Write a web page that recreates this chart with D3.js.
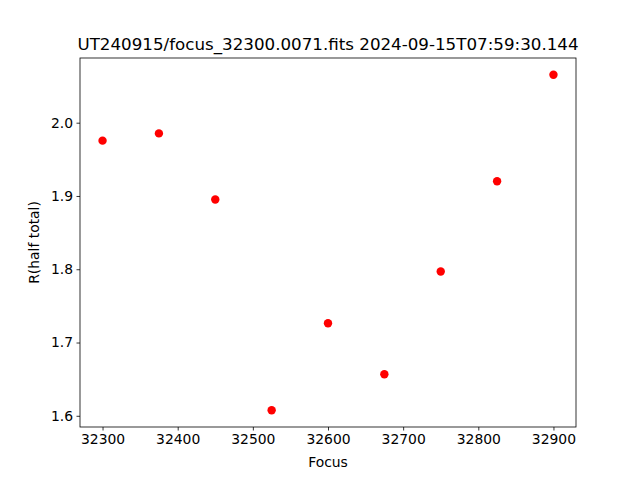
<!DOCTYPE html>
<html><head><meta charset="utf-8">
<script src="https://cdn.jsdelivr.net/npm/d3@7"></script>
<style>body{margin:0;background:#fff}svg{display:block}text{font-family:"DejaVu Sans",sans-serif;fill:#000}</style>
</head><body><div id="chart"></div>
<script>
const title = "UT240915/focus_32300.0071.fits 2024-09-15T07:59:30.144";
const xLabel = "Focus";
const yLabel = "R(half total)";
const focus = [32300, 32375, 32450, 32525, 32600, 32675, 32750, 32825, 32900];
const radius = [1.9755, 1.9854, 1.8951, 1.6076, 1.7262, 1.6567, 1.797, 1.920, 2.0654];
const xTicks = [32300, 32400, 32500, 32600, 32700, 32800, 32900];
const yTicks = [1.6, 1.7, 1.8, 1.9, 2.0];

const W = 640, H = 480;
const m = {left: 80, right: 640 - 576, top: 58, bottom: 480 - 427};
const svg = d3.select("#chart").append("svg").attr("width", W).attr("height", H);

const xmin = d3.min(focus), xmax = d3.max(focus), xpad = (xmax - xmin) * 0.05;
const ymin = d3.min(radius), ymax = d3.max(radius), ypad = (ymax - ymin) * 0.05;
const x = d3.scaleLinear().domain([xmin - xpad, xmax + xpad]).range([m.left, W - m.right]);
const y = d3.scaleLinear().domain([ymin - ypad, ymax + ypad]).range([H - m.bottom, m.top]);

const xAxis = svg.append("g").attr("transform", `translate(0,${H - m.bottom})`)
  .call(d3.axisBottom(x).tickValues(xTicks).tickFormat(d3.format("d")).tickSize(3.5).tickPadding(3.5));
const yAxis = svg.append("g").attr("transform", `translate(${m.left},0)`)
  .call(d3.axisLeft(y).tickValues(yTicks).tickFormat(d3.format(".1f")).tickSize(3.5).tickPadding(3.5));
[xAxis, yAxis].forEach(g => {
  g.select(".domain").remove();
  g.selectAll("line").attr("stroke", "#000").attr("stroke-width", 0.8);
  g.selectAll("text").style("font-size", "13.9px").style("font-family", '"DejaVu Sans",sans-serif').attr("fill", "#000");
});

svg.append("rect").attr("x", m.left).attr("y", m.top)
  .attr("width", W - m.left - m.right).attr("height", H - m.top - m.bottom)
  .attr("fill", "none").attr("stroke", "#000").attr("stroke-width", 0.8);

svg.append("g").selectAll("circle").data(focus).join("circle")
  .attr("cx", (d) => x(d)).attr("cy", (d, i) => y(radius[i])).attr("r", 4.2).attr("fill", "#ff0000");

svg.append("text").attr("x", (m.left + W - m.right) / 2).attr("y", 50)
  .attr("text-anchor", "middle").style("font-size", "16.7px").text(title);
svg.append("text").attr("x", (m.left + W - m.right) / 2).attr("y", 467)
  .attr("text-anchor", "middle").style("font-size", "13.9px").text(xLabel);
svg.append("text").attr("transform", `translate(39,${(m.top + H - m.bottom) / 2}) rotate(-90)`)
  .attr("text-anchor", "middle").style("font-size", "13.9px").text(yLabel);
</script></body></html>
